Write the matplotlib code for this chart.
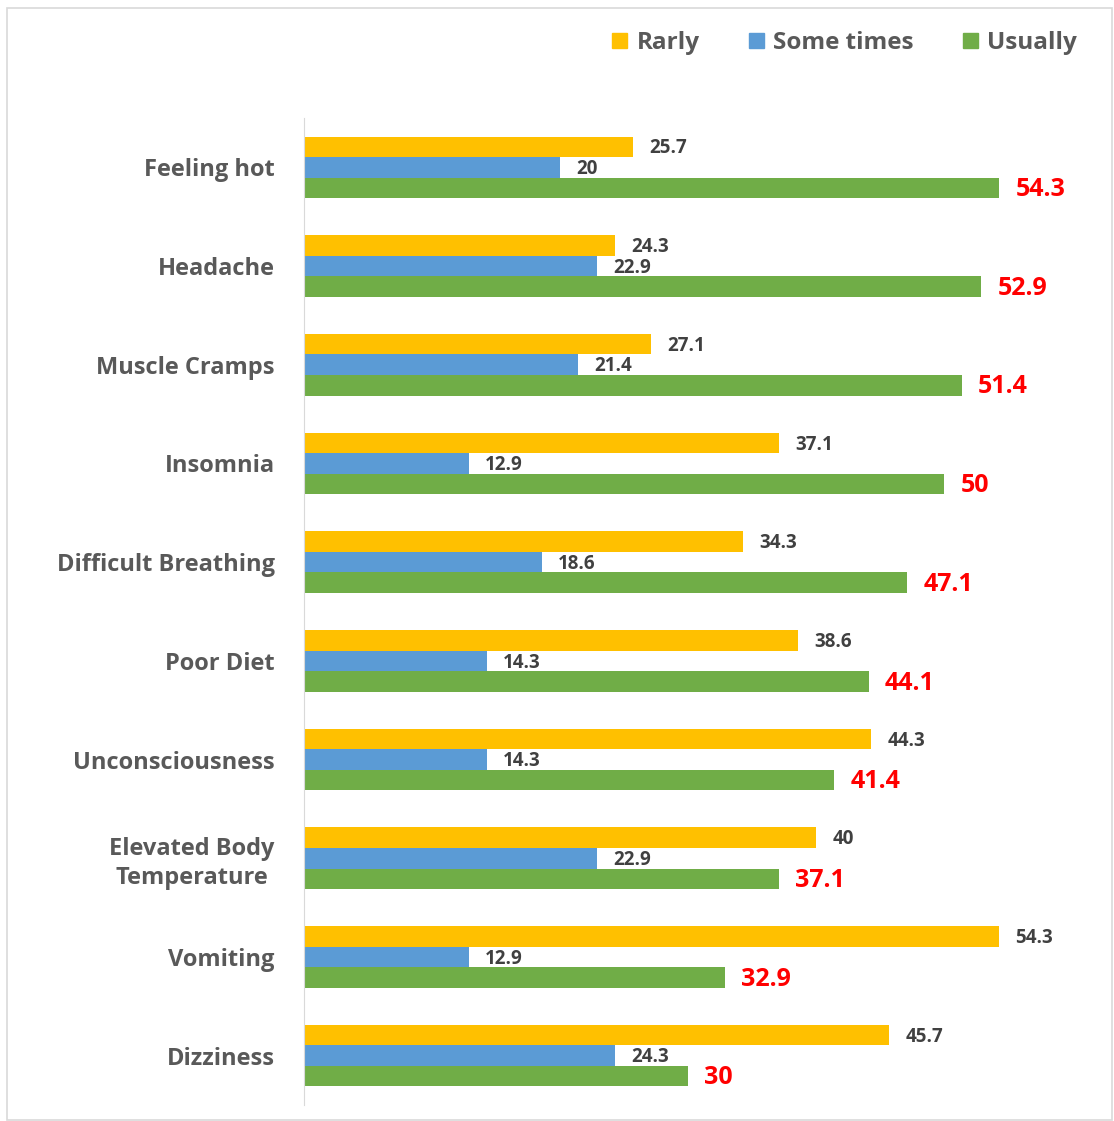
import numpy as np
import matplotlib.pyplot as plt
from matplotlib.patches import Patch, Rectangle

plt.rcParams['font.family'] = ['Open Sans', 'DejaVu Sans']
plt.rcParams['font.weight'] = 'bold'

# survey answers per symptom (percent)
symptoms = ['Feeling hot', 'Headache', 'Muscle Cramps', 'Insomnia',
            'Difficult Breathing', 'Poor Diet', 'Unconsciousness',
            'Elevated Body\nTemperature', 'Vomiting', 'Dizziness']
rarly = [25.7, 24.3, 27.1, 37.1, 34.3, 38.6, 44.3, 40, 54.3, 45.7]
some_times = [20, 22.9, 21.4, 12.9, 18.6, 14.3, 14.3, 22.9, 12.9, 24.3]
usually = [54.3, 52.9, 51.4, 50, 47.1, 44.1, 41.4, 37.1, 32.9, 30]

c_rarly = '#FFC000'
c_some = '#5B9BD5'
c_usual = '#70AD47'

fig = plt.figure(figsize=(11.14, 11.21), dpi=100)
W, H = 1114, 1121
ax = fig.add_axes([304 / W, 1 - 1105 / H, (1098 - 304) / W, (1105 - 118) / H])

y = np.arange(len(symptoms))[::-1]
h = 0.208

b1 = ax.barh(y + h, rarly, height=h, color=c_rarly)
b2 = ax.barh(y, some_times, height=h, color=c_some)
b3 = ax.barh(y - h, usually, height=h, color=c_usual)

# value labels next to each bar
for bars, vals, col, fs in [(b1, rarly, '#404040', 13.5), (b2, some_times, '#404040', 13.5),
                            (b3, usually, '#FF0000', 18)]:
    for bar, v in zip(bars, vals):
        ax.annotate(f'{v:g}', (bar.get_width(), bar.get_y() + bar.get_height() / 2),
                    xytext=(11.5, -1.2), textcoords='offset points',
                    ha='left', va='center', fontsize=fs, color=col, fontweight='bold')

ax.set_xlim(0, 62)
ax.set_ylim(-0.5, len(symptoms) - 0.5)
ax.set_yticks(y)
ax.set_yticklabels(symptoms, fontsize=17, color='#595959', fontweight='bold',
                   linespacing=1.25, ha='right', multialignment='center')
ax.tick_params(axis='y', length=0, pad=21)
ax.set_xticks([])
for s in ['top', 'right', 'bottom']:
    ax.spines[s].set_visible(False)
ax.spines['left'].set_color('#D9D9D9')

# legend at the top
handles = [Patch(color=c_rarly, label='Rarly'),
           Patch(color=c_some, label='Some times'),
           Patch(color=c_usual, label='Usually')]
leg = fig.legend(handles=handles, loc='center right', ncol=3, frameon=False,
                 bbox_to_anchor=(1099 / W, 1 - 43 / H), fontsize=17.5,
                 handlelength=0.62, handleheight=0.62, handletextpad=0.4,
                 columnspacing=2.0)
for t in leg.get_texts():
    t.set_color('#595959')

# outer chart border
fig.patches.append(Rectangle((7 / W, 1 - 1120 / H), (1112 - 7) / W, (1120 - 8) / H,
                             transform=fig.transFigure, fill=False,
                             edgecolor='#D9D9D9', linewidth=1.2))

fig.savefig('out.png', dpi=100)
